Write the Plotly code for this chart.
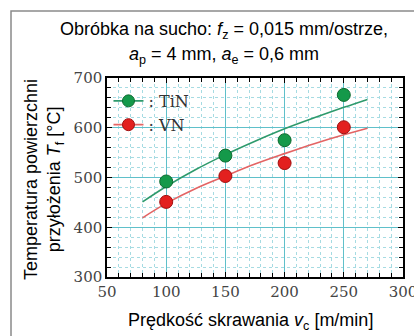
import plotly.graph_objects as go

# ---- data ----
speeds = [100, 150, 200, 250]
tin_temp = [492, 544, 575, 666]
vn_temp = [451, 503, 529, 601]

# trend curves
curve_x = [80, 100, 125, 150, 175, 200, 225, 250, 270]
tin_curve = [451, 482, 516, 546, 573, 598, 620, 641, 657]
vn_curve = [419, 448, 478, 503, 527, 548, 568, 586, 599]

x_ticks = [50, 100, 150, 200, 250, 300]
y_ticks = [300, 400, 500, 600, 700]

GREEN = "#14994a"
GREEN_LINE = "#2e9a6c"
RED = "#e3201f"
RED_LINE = "#e46464"

fig = go.Figure()

fig.add_trace(go.Scatter(x=curve_x, y=tin_curve, mode="lines", line=dict(color=GREEN_LINE, width=1.6, shape="spline"),
                         showlegend=False, hoverinfo="skip"))
fig.add_trace(go.Scatter(x=curve_x, y=vn_curve, mode="lines", line=dict(color=RED_LINE, width=1.6, shape="spline"),
                         showlegend=False, hoverinfo="skip"))
fig.add_trace(go.Scatter(x=speeds, y=tin_temp, mode="markers",
                         marker=dict(color=GREEN, size=13, line=dict(color="#0d6a30", width=1)), showlegend=False))
fig.add_trace(go.Scatter(x=speeds, y=vn_temp, mode="markers",
                         marker=dict(color=RED, size=13, line=dict(color="#a01010", width=1)), showlegend=False))

# legend entries
fig.add_trace(go.Scatter(x=[None], y=[None], mode="lines+markers", name=": TiN",
                         line=dict(color=GREEN_LINE, width=1.6),
                         marker=dict(color=GREEN, size=12, line=dict(color="#0d6a30", width=1))))
fig.add_trace(go.Scatter(x=[None], y=[None], mode="lines+markers", name=": VN",
                         line=dict(color=RED_LINE, width=1.6),
                         marker=dict(color=RED, size=12, line=dict(color="#a01010", width=1))))

tickfont = dict(family="DejaVu Serif", size=15, color="#444444")
common = dict(showline=True, linecolor="black", linewidth=1.5, mirror="ticks",
              ticks="inside", ticklen=5, tickcolor="black",
              showgrid=True, gridcolor="#5fc0ca", gridwidth=1, zeroline=False,
              tickfont=tickfont, ticklabeloverflow="allow", automargin=False)
fig.update_xaxes(range=[50, 300], tickvals=x_ticks, ticktext=[str(v) for v in x_ticks],
                 minor=dict(dtick=10, ticks="inside", ticklen=4, tickcolor="black",
                            showgrid=True, gridcolor="#a6dbe2", griddash="3px,3px", gridwidth=1),
                 **common)
fig.update_yaxes(range=[300, 700], tickvals=y_ticks, ticktext=[str(v) for v in y_ticks],
                 minor=dict(dtick=20, ticks="inside", ticklen=4, tickcolor="black",
                            showgrid=True, gridcolor="#a6dbe2", griddash="3px,3px", gridwidth=1),
                 **common)

fig.update_layout(
    width=414, height=336,
    margin=dict(l=107, r=11, t=78, b=59),
    paper_bgcolor="white", plot_bgcolor="white",
    legend=dict(x=0.005, y=0.97, xanchor="left", yanchor="top", bgcolor="rgba(0,0,0,0)",
                font=dict(family="DejaVu Serif", size=16, color="#333333"),
                itemwidth=30, tracegroupgap=0),
    shapes=[dict(type="rect", xref="paper", yref="paper", x0=-0.3243, x1=1.3, y0=-0.5, y1=1.3367,
                 line=dict(color="#8a8a8a", width=1.5), layer="below")],
    annotations=[
        dict(text="Obróbka na sucho: <i>f</i><sub>z</sub> = 0,015 mm/ostrze,", xref="paper", yref="paper",
             x=(224 - 107) / 296, y=(277 - 30) / 199, xanchor="center", yanchor="middle", showarrow=False,
             font=dict(family="Liberation Sans", size=18, color="black")),
        dict(text="<i>a</i><sub>p</sub> = 4 mm, <i>a</i><sub>e</sub> = 0,6 mm", xref="paper", yref="paper",
             x=(224 - 107) / 296, y=(277 - 55) / 199, xanchor="center", yanchor="middle", showarrow=False,
             font=dict(family="Liberation Sans", size=18, color="black")),
        dict(text="Prędkość skrawania <i>v</i><sub>c</sub> [m/min]", xref="paper", yref="paper",
             x=(250 - 107) / 296, y=(277 - 321) / 199, xanchor="center", yanchor="middle", showarrow=False,
             font=dict(family="Liberation Sans", size=18, color="black")),
        dict(text="Temperatura powierzchni<br>przyłożenia <i>T</i><sub>f</sub> [°C]", xref="paper", yref="paper",
             x=(44 - 107) / 296, y=(277 - 180) / 199, xanchor="center", yanchor="middle", showarrow=False,
             textangle=-90, font=dict(family="Liberation Sans", size=18, color="black")),
    ],
)

fig.write_html("out.html")
